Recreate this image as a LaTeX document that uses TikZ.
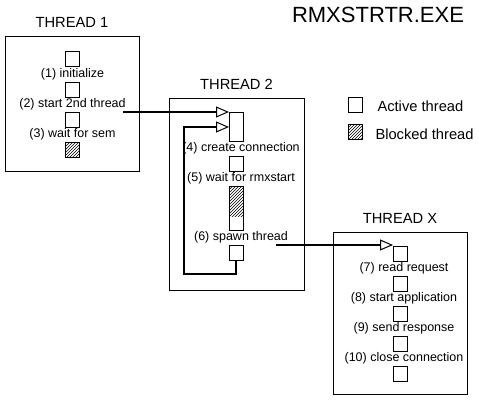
\documentclass[tikz,border=0pt]{standalone}
\usepackage{fontspec}
\setmainfont{Liberation Sans}
\usetikzlibrary{positioning,patterns,arrows.meta}
\begin{document}
\begin{tikzpicture}
        [x=1pt, y=-1pt, node distance=15pt,
        every node/.style={inner sep=0pt, outer sep=0pt},
        frame/.style={draw, line width=1pt},
        head/.style={font=\fontsize{14.7}{16}\selectfont},
        stepbox/.style={draw, line width=1pt, minimum width=14pt, minimum height=15pt},
        waitbox/.style={stepbox, pattern=north east lines},
        tag/.style={minimum height=15pt, font=\fontsize{12.5}{14}\selectfont},
        flow/.style={line width=2.6pt, -{Triangle[open, length=13pt, width=11pt, line width=1pt]}},
        ]
        \useasboundingbox (0,0) rectangle (479,404);
        \node[font=\fontsize{22}{26}\selectfont] (title) at (378,15) {RMXSTRTR.EXE};

        \node[frame, minimum width=134pt, minimum height=134pt] (th1) at (72,104) {};
        \node[head, above=9pt of th1] {THREAD 1};
        \node[stepbox] (s1) at (72.5,59.5) {};
        \node[tag, below=0pt of s1] (l1) {(1) initialize};
        \node[stepbox, below=of s1] (s2) {};
        \node[tag, below=0pt of s2] (l2) {(2) start 2nd thread};
        \node[stepbox, below=of s2] (s3) {};
        \node[tag, below=0pt of s3] (l3) {(3) wait for sem};
        \node[waitbox, below=of s3] (s4) {};

        \node[frame, minimum width=135pt, minimum height=192pt] (th2) at (236.5,194) {};
        \node[head, above=9pt of th2] {THREAD 2};
        \node[stepbox, minimum height=29pt] (t4) at (236,126.5) {};
        \node[tag, below=0pt of t4, xshift=5pt] (l4) {(4) create connection};
        \node[stepbox, below=of t4] (s5) {};
        \node[tag, below=0pt of s5, xshift=5pt] (l5) {(5) wait for rmxstart};
        \node[stepbox, below=of s5, minimum height=44pt,
          path picture={\fill[pattern=north east lines] (path picture bounding box.north west)
            rectangle ([yshift=14pt]path picture bounding box.south east);}] (t5) {};
        \node[tag, below=0pt of t5, xshift=5pt] (l6) {(6) spawn thread};
        \node[stepbox, below=of t5] (s6) {};

        \node[frame, minimum width=134pt, minimum height=162pt] (thX) at (400,313) {};
        \node[head, above=9pt of thX] {THREAD X};
        \node[stepbox] (s7) at (400,253.5) {};
        \node[tag, below=0pt of s7, xshift=4pt] (l7) {(7) read request};
        \node[stepbox, below=of s7] (s8) {};
        \node[tag, below=0pt of s8, xshift=4pt] (l8) {(8) start application};
        \node[stepbox, below=of s8] (s9) {};
        \node[tag, below=0pt of s9, xshift=4pt] (l9) {(9) send response};
        \node[stepbox, below=of s9] (s10) {};
        \node[tag, below=0pt of s10, xshift=4pt] (l10) {(10) close connection};
        \node[stepbox, below=of s10] (s11) {};

        \node[stepbox] (key1) at (355.5,104.5) {};
        \node[head, right=15pt of key1, yshift=-2pt] {Active thread};
        \node[waitbox] (key2) at (355.5,132) {};
        \node[head, right=13pt of key2, yshift=-2pt] {Blocked thread};

        \coordinate (go2) at (123,112);
        \coordinate (goX) at (276,245);
        \coordinate (back) at (184,274);
        \draw[flow] (go2) -- (go2 -| t4.west);
        \draw[flow] (s6.south) |- (back) |- ([yshift=-15pt]t4.north west);
        \draw[flow] (goX) -- (goX -| s7.west);
\end{tikzpicture}
\end{document}
